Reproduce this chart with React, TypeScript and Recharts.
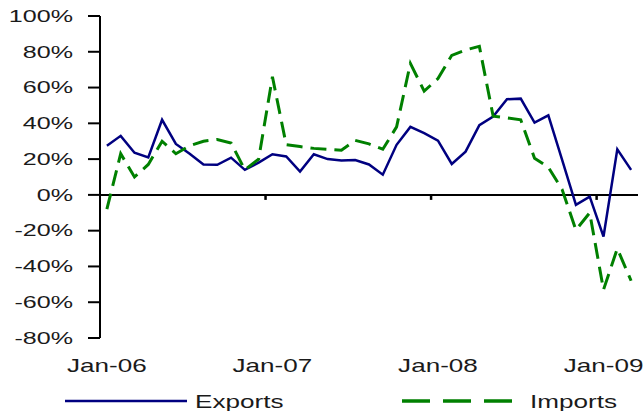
import React from "react";
import { LineChart, Line, XAxis, YAxis, ReferenceLine } from "recharts";

const months = [
  "Jan-06", "Feb-06", "Mar-06", "Apr-06", "May-06", "Jun-06", "Jul-06", "Aug-06", "Sep-06", "Oct-06", "Nov-06", "Dec-06",
  "Jan-07", "Feb-07", "Mar-07", "Apr-07", "May-07", "Jun-07", "Jul-07", "Aug-07", "Sep-07", "Oct-07", "Nov-07", "Dec-07",
  "Jan-08", "Feb-08", "Mar-08", "Apr-08", "May-08", "Jun-08", "Jul-08", "Aug-08", "Sep-08", "Oct-08", "Nov-08", "Dec-08",
  "Jan-09", "Feb-09", "Mar-09",
];

const exportsGrowth = [
  27.5, 33, 23.6, 21, 42, 28.5, 23, 17, 16.8, 20.8, 14, 18,
  22.7, 21.5, 13, 22.7, 20, 19.2, 19.5, 17, 11.3, 28, 38, 34.5,
  30.3, 17.3, 24.2, 39, 43.8, 53.5, 53.8, 40.4, 44.5, 19.6, -5.6, -1,
  -23.3, 25.5, 14,
];

const importsGrowth = [
  -8, 23, 10, 17, 30, 23, 27.5, 30, 31, 29, 14, 20,
  66, 28, 27, 26, 25.5, 25, 30.5, 28.5, 25.5, 38, 73.5, 58,
  65, 78, 81, 83, 44, 43, 42, 20.5, 15.5, 3, -19.6, -10,
  -53, -30, -48,
];

const xTickLabels = ["Jan-06", "Jan-07", "Jan-08", "Jan-09"];
const yTicks = [-80, -60, -40, -20, 0, 20, 40, 60, 80, 100];

const seriesNames = ["Exports", "Imports"];
const EXPORT_COLOR = "#000080";
const IMPORT_COLOR = "#008000";
const FONT = "'Liberation Sans', Arial, sans-serif";
const TEXT_COLOR = "#1a1a1a";

const rows = months.map((m, i) => ({
  idx: i,
  month: m,
  exports: exportsGrowth[i],
  imports: importsGrowth[i],
}));

const labelIdx = xTickLabels.map((l) => months.indexOf(l));
const boundaries = labelIdx.filter((i) => i > 0).map((i) => i - 0.5);

const XTick = (props: any) => {
  const { x, y, payload } = props;
  const label = months[payload.value];
  return (
    <text
      transform={`translate(${x},${y + 34}) scale(1.45,1)`}
      textAnchor="middle"
      fontSize={18}
      fontFamily={FONT}
      fill={TEXT_COLOR}
    >
      {label}
    </text>
  );
};

const YTick = (props: any) => {
  const { x, y, payload } = props;
  return (
    <text
      transform={`translate(${x},${y + 5.8}) scale(1.57,1)`}
      textAnchor="end"
      fontSize={16}
      fontFamily={FONT}
      fill={TEXT_COLOR}
    >
      {`${payload.value}%`}
    </text>
  );
};

export default function App() {
  return (
    <div style={{ position: "absolute", left: 0, top: 0, width: 644, height: 411, background: "#fff" }}>
      <LineChart
        width={644}
        height={411}
        data={rows}
        margin={{ top: 16, right: 6, bottom: 43, left: 0 }}
      >
        <XAxis
          type="number"
          dataKey="idx"
          domain={[-0.5, months.length - 0.5]}
          ticks={labelIdx}
          interval={0}
          axisLine={false}
          tickLine={false}
          tickSize={0}
          tickMargin={0}
          height={30}
          tick={<XTick />}
          allowDecimals
        />
        <YAxis
          type="number"
          domain={[-80, 100]}
          ticks={yTicks}
          interval={0}
          width={100}
          tickSize={12}
          tickMargin={15}
          axisLine={{ stroke: "#000", strokeWidth: 2 }}
          tickLine={{ stroke: "#000", strokeWidth: 2 }}
          tick={<YTick />}
        />
        <ReferenceLine y={0} stroke="#000" strokeWidth={2} />
        {boundaries.map((b) => (
          <ReferenceLine
            key={b}
            segment={[
              { x: b, y: 0 },
              { x: b, y: -2.8 },
            ]}
            stroke="#000"
            strokeWidth={2.5}
          />
        ))}
        <Line
          type="linear"
          dataKey="exports"
          name={seriesNames[0]}
          stroke={EXPORT_COLOR}
          strokeWidth={2.5}
          dot={false}
          isAnimationActive={false}
        />
        <Line
          type="linear"
          dataKey="imports"
          name={seriesNames[1]}
          stroke={IMPORT_COLOR}
          strokeWidth={3}
          strokeDasharray="16 8"
          dot={false}
          isAnimationActive={false}
        />
      </LineChart>
      <svg
        width={644}
        height={411}
        style={{ position: "absolute", left: 0, top: 0, pointerEvents: "none" }}
      >
        <line x1={65} y1={401} x2={187} y2={401} stroke={EXPORT_COLOR} strokeWidth={2.5} />
        <text
          transform="translate(195,407.5) scale(1.45,1)"
          fontSize={18}
          fontFamily={FONT}
          fill={TEXT_COLOR}
        >
          {seriesNames[0]}
        </text>
        <line
          x1={402}
          y1={401}
          x2={513}
          y2={401}
          stroke={IMPORT_COLOR}
          strokeWidth={3.5}
          strokeDasharray="28 13"
        />
        <text
          transform="translate(530,407.5) scale(1.45,1)"
          fontSize={18}
          fontFamily={FONT}
          fill={TEXT_COLOR}
        >
          {seriesNames[1]}
        </text>
      </svg>
    </div>
  );
}
